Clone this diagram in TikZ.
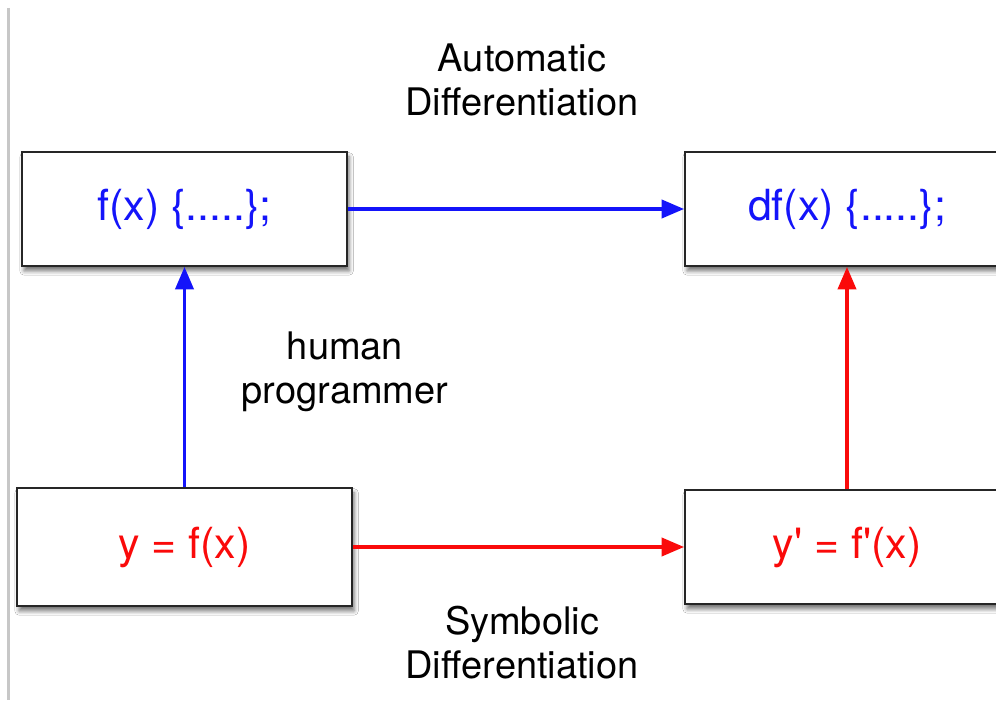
\documentclass[tikz,border=0pt]{standalone}
\usepackage{fontspec}
\setmainfont{TeX Gyre Heros}
\usetikzlibrary{arrows.meta,shadows.blur}
\definecolor{progblue}{RGB}{20,20,250}
\definecolor{symbred}{RGB}{250,10,10}
\tikzset{
  box/.style={draw=black!85,line width=1.3pt,fill=white,inner sep=0pt,
    minimum width=8.125cm,minimum height=2.85cm,
    font=\fontsize{30.5}{36}\selectfont,
    blur shadow={shadow xshift=1.5pt,shadow yshift=-3.5pt,
      shadow blur radius=3pt,shadow opacity=55}},
  lbl/.style={align=center,inner sep=0pt,font=\fontsize{27}{31.2}\selectfont},
  flow/.style={line width=2.3pt,-{Triangle[length=16pt,width=13pt]}}
}

\begin{document}
\begin{tikzpicture}[x=0.025cm,y=-0.025cm]
  \useasboundingbox (0,0) rectangle (996,708);
  \clip (0,0) rectangle (996,708);
  \fill[white] (0,0) rectangle (996,708);
  \draw[black!22,line width=1.5pt] (8.5,8) -- (8.5,700);

      \node[box,text=progblue] (code) at (184.5,209) {f(x) \{.....\};};
      \node[box,text=progblue,minimum width=8.1cm] (dcode) at (847,209) {df(x) \{.....\};};
      \node[box,text=symbred,minimum width=8.375cm,minimum height=2.95cm] (eq) at (184.5,547) {y = f(x)};
      \node[box,text=symbred,minimum width=8.1cm] (deq) at (847,547) {y\textquotesingle{} = f\textquotesingle(x)};

      \node[lbl] (ad) at (522,80) {Automatic\\Differentiation};
      \node[lbl] (hp) at (345,372) {human\\programmer};
      \node[lbl] (sd) at (522,643) {Symbolic\\Differentiation};

\foreach \a/\b/\c in {code/dcode/progblue,eq/code/progblue,eq/deq/symbred,deq/dcode/symbred}
  \draw[flow,\c] (\a) -- (\b);
    \end{tikzpicture}
\end{document}
